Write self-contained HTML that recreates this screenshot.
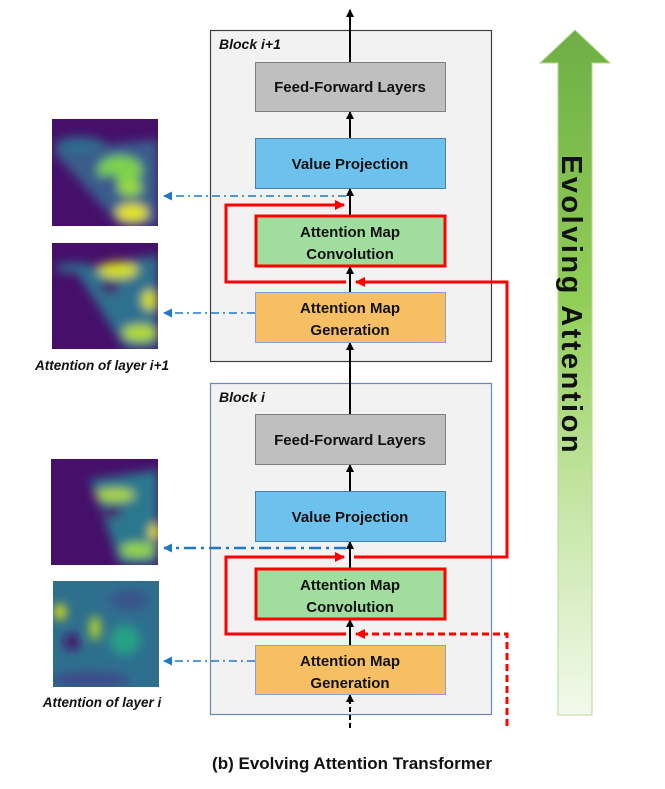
<!DOCTYPE html>
<html><head><meta charset="utf-8"><style>
html,body{margin:0;padding:0;background:#fff;}
svg{display:block;}
text{font-family:"Liberation Sans","DejaVu Sans",sans-serif;}
</style></head><body>
<svg width="665" height="789" viewBox="0 0 665 789" xmlns="http://www.w3.org/2000/svg">
<defs>
<linearGradient id="ga" x1="0" y1="0" x2="0" y2="1">
<stop offset="0" stop-color="#6fae45"/><stop offset="0.4" stop-color="#92cf58"/><stop offset="0.7" stop-color="#c7e6a8"/><stop offset="1" stop-color="#f3f9ec"/>
</linearGradient>
<filter id="bl" x="-20%" y="-20%" width="140%" height="140%"><feGaussianBlur stdDeviation="5"/></filter>
<clipPath id="c1"><rect x="52" y="119" width="106" height="107"/></clipPath>
<clipPath id="c2"><rect x="52" y="243" width="106" height="106"/></clipPath>
<clipPath id="c3"><rect x="51" y="459" width="107" height="106"/></clipPath>
<clipPath id="c4"><rect x="53" y="581" width="106" height="106"/></clipPath>
<marker id="ak" markerWidth="8" markerHeight="8" refX="7" refY="4" orient="auto" markerUnits="userSpaceOnUse"><path d="M0,0 L8,4 L0,8 Z" fill="#000"/></marker>
<marker id="ar" markerWidth="10" markerHeight="10" refX="9" refY="5" orient="auto" markerUnits="userSpaceOnUse"><path d="M0,0 L10,5 L0,10 Z" fill="#f00"/></marker>
<marker id="ab" markerWidth="9" markerHeight="9" refX="8" refY="4.5" orient="auto" markerUnits="userSpaceOnUse"><path d="M0,0 L9,4.5 L0,9 Z" fill="#1f78c8"/></marker>
</defs>

<!-- heatmaps -->
<g clip-path="url(#c1)">
<rect x="52" y="119" width="106" height="107" fill="#46106a"/>
<g filter="url(#bl)">
<polygon points="52,150 158,140 158,226 120,226" fill="#3a5d8c"/>
<ellipse cx="120" cy="170" rx="22" ry="14" fill="#7fd34e"/>
<ellipse cx="110" cy="180" rx="8" ry="6" fill="#3b528b"/>
<ellipse cx="130" cy="188" rx="12" ry="8" fill="#9bd93c"/>
<ellipse cx="132" cy="213" rx="16" ry="9" fill="#e5e419"/>
<ellipse cx="80" cy="145" rx="25" ry="8" fill="#2f6c8e"/>
</g></g>
<g clip-path="url(#c2)">
<rect x="52" y="243" width="106" height="106" fill="#46106a"/>
<g filter="url(#bl)">
<polygon points="75,270 158,255 158,349 125,349 95,300" fill="#2d718e"/>
<ellipse cx="118" cy="270" rx="20" ry="8" fill="#d9e21f"/>
<ellipse cx="110" cy="287" rx="10" ry="6" fill="#46106a"/>
<ellipse cx="150" cy="300" rx="8" ry="10" fill="#d4e21a"/>
<ellipse cx="140" cy="333" rx="18" ry="8" fill="#b5de2b"/>
<ellipse cx="75" cy="268" rx="20" ry="5" fill="#2f6c8e"/>
</g></g>
<g clip-path="url(#c3)">
<rect x="51" y="459" width="107" height="106" fill="#46106a"/>
<g filter="url(#bl)">
<polygon points="90,480 158,470 158,565 120,565 105,520" fill="#2a788e"/>
<ellipse cx="115" cy="495" rx="20" ry="6" fill="#b5de2b"/>
<ellipse cx="112" cy="512" rx="10" ry="6" fill="#46106a"/>
<ellipse cx="155" cy="532" rx="6" ry="8" fill="#e5e419"/>
<ellipse cx="138" cy="550" rx="18" ry="7" fill="#9bd93c"/>
</g></g>
<g clip-path="url(#c4)">
<rect x="53" y="581" width="106" height="106" fill="#2e6f8e"/>
<g filter="url(#bl)">
<ellipse cx="60" cy="612" rx="6" ry="8" fill="#e5e419"/>
<ellipse cx="95" cy="628" rx="5" ry="12" fill="#c2df23"/>
<ellipse cx="72" cy="642" rx="8" ry="8" fill="#46106a"/>
<ellipse cx="130" cy="600" rx="20" ry="10" fill="#3b528b"/>
<ellipse cx="90" cy="680" rx="40" ry="8" fill="#3e4a89"/>
<ellipse cx="125" cy="640" rx="15" ry="15" fill="#27a287"/>
</g></g>
<text x="102" y="370" font-size="13.5" font-weight="bold" font-style="italic" text-anchor="middle" fill="#111">Attention of layer i+1</text>
<text x="102" y="707" font-size="13.5" font-weight="bold" font-style="italic" text-anchor="middle" fill="#111">Attention of layer i</text>

<!-- blocks -->
<rect x="210.5" y="30.5" width="281" height="331" fill="#f2f2f2" stroke="#404040" stroke-width="1.2"/>
<text x="219" y="49" font-size="14" font-weight="bold" font-style="italic" fill="#111">Block i+1</text>
<rect x="210.5" y="383.5" width="281" height="331" fill="#f2f2f2" stroke="#6b86b8" stroke-width="1.2"/>
<text x="219" y="402" font-size="14" font-weight="bold" font-style="italic" fill="#111">Block i</text>

<!-- black arrows -->
<g stroke="#000" stroke-width="2" fill="none">
<line x1="350" y1="62" x2="350" y2="10" marker-end="url(#ak)"/>
<line x1="350" y1="138" x2="350" y2="112" marker-end="url(#ak)"/>
<line x1="350" y1="215" x2="350" y2="189" marker-end="url(#ak)"/>
<line x1="350" y1="292" x2="350" y2="267" marker-end="url(#ak)"/>
<line x1="350" y1="414" x2="350" y2="343" marker-end="url(#ak)"/>
<line x1="350" y1="491" x2="350" y2="465" marker-end="url(#ak)"/>
<line x1="350" y1="568" x2="350" y2="542" marker-end="url(#ak)"/>
<line x1="350" y1="645" x2="350" y2="620" marker-end="url(#ak)"/>
<line x1="350" y1="728" x2="350" y2="695" stroke-dasharray="5,3" marker-end="url(#ak)"/>
</g>

<!-- boxes -->
<g stroke="#7f7f7f" stroke-width="1">
<rect x="255.5" y="62.5" width="190" height="49" fill="#bfbfbf"/>
<rect x="255.5" y="138.5" width="190" height="50" fill="#6dc1ed" stroke="#4a7fb0"/>
<rect x="255.5" y="292.5" width="190" height="50" fill="#f7bf63" stroke="#8ea0c8"/>
<rect x="255.5" y="414.5" width="190" height="50" fill="#bfbfbf"/>
<rect x="255.5" y="491.5" width="190" height="50" fill="#6dc1ed" stroke="#4a7fb0"/>
<rect x="255.5" y="645.5" width="190" height="49" fill="#f7bf63" stroke="#8ea0c8"/>
</g>
<rect x="256" y="216" width="189" height="50" fill="#a1dd9f" stroke="#f00" stroke-width="3"/>
<rect x="256" y="569" width="189" height="50" fill="#a1dd9f" stroke="#f00" stroke-width="3"/>

<g font-size="15" font-weight="bold" fill="#111" text-anchor="middle">
<text x="350" y="92">Feed-Forward Layers</text>
<text x="350" y="169">Value Projection</text>
<text x="350" y="237">Attention Map</text>
<text x="350" y="259">Convolution</text>
<text x="350" y="313">Attention Map</text>
<text x="350" y="335">Generation</text>
<text x="350" y="445">Feed-Forward Layers</text>
<text x="350" y="522">Value Projection</text>
<text x="350" y="590">Attention Map</text>
<text x="350" y="612">Convolution</text>
<text x="350" y="666">Attention Map</text>
<text x="350" y="688">Generation</text>
</g>

<!-- red paths -->
<g stroke="#f00" stroke-width="3" fill="none">
<polyline points="346,282 226,282 226,205 344,205" marker-end="url(#ar)"/>
<polyline points="346,634 226,634 226,557 344,557" marker-end="url(#ar)"/>
<polyline points="354,557 507,557 507,282 356,282" marker-end="url(#ar)"/>
<polyline points="507,726 507,634 356,634" stroke-dasharray="7,4" marker-end="url(#ar)"/>
</g>

<!-- blue dash-dot -->
<g stroke="#1f78c8" stroke-width="1.6" fill="none" stroke-dasharray="8,4,2,4">
<line x1="346" y1="196" x2="164" y2="196" marker-end="url(#ab)"/>
<line x1="255" y1="313" x2="164" y2="313" marker-end="url(#ab)"/>
<line x1="346" y1="548" x2="164" y2="548" stroke-width="2.6" stroke-dasharray="12,5,3,5" marker-end="url(#ab)"/>
<line x1="255" y1="661" x2="164" y2="661" marker-end="url(#ab)"/>
</g>

<!-- green arrow -->
<polygon points="575,30 610,63 592,63 592,715 558,715 558,63 540,63" fill="url(#ga)" stroke="#b5d99a" stroke-width="1"/>
<text x="0" y="0" font-size="29" font-weight="bold" fill="#111" text-anchor="middle" letter-spacing="2.5" transform="translate(562,305) rotate(90)">Evolving Attention</text>

<text x="352" y="769" font-size="17" font-weight="bold" text-anchor="middle" fill="#111">(b) Evolving Attention Transformer</text>
</svg>
</body></html>
